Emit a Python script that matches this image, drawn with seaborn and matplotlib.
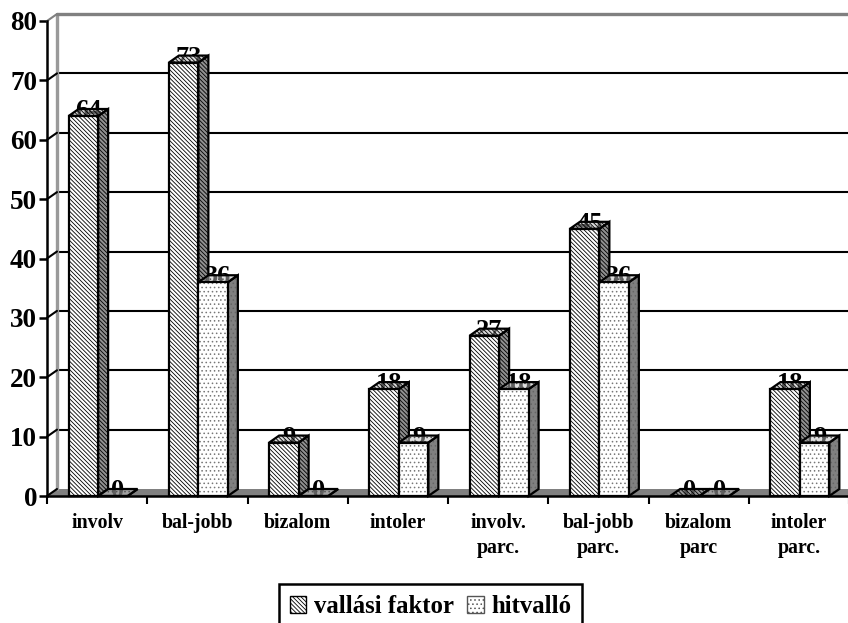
import matplotlib
matplotlib.use("Agg")
import matplotlib.pyplot as plt
from matplotlib.colors import to_rgba
from matplotlib.patches import Patch, Polygon, Rectangle
import seaborn as sns
import pandas as pd

categories = ["involv", "bal-jobb", "bizalom", "intoler", "involv.\nparc.", "bal-jobb\nparc.", "bizalom\nparc", "intoler\nparc."]
vallasi = [64, 73, 9, 18, 27, 45, 0, 18]
hitvallo = [0, 36, 0, 9, 18, 36, 0, 9]
series_names = ["vallási faktor", "hitvalló"]
y_ticks = [0, 10, 20, 30, 40, 50, 60, 70, 80]

sns.set_theme(style="white")
plt.rcParams["font.family"] = ["Liberation Serif", "DejaVu Serif"]
plt.rcParams["font.weight"] = "bold"
plt.rcParams["hatch.linewidth"] = 0.6

W, H = 848, 623
fig = plt.figure(figsize=(W / 100, H / 100), dpi=100)
ax = fig.add_axes([47 / W, (H - 496) / H, 802 / W, 475 / H])

df = pd.DataFrame({
	"kategoria": categories * 2,
	"ertek": vallasi + hitvallo,
	"sorozat": [series_names[0]] * 8 + [series_names[1]] * 8,
})
sns.barplot(data=df, x="kategoria", y="ertek", hue="sorozat", order=categories, hue_order=series_names,
	palette=["white", "white"], width=0.588, gap=0, edgecolor="black", linewidth=0, saturation=1,
	legend=False, ax=ax)

ax.set_xlim(-0.5, 7.5)
ax.set_ylim(0, 80)

# 3D eltolas adategysegben (10 px jobbra, 7 px fel)
dx = 10 / (802 / 8)
dy = 7 / (475 / 80)
x0, x1 = -0.5, 7.5
shift = 1 / (802 / 8)

# padlo, hatso fal, racsvonalak
ax.add_patch(Polygon([(x0, 0), (x0 + dx, dy), (x1, dy), (x1, 0)], facecolor="#808080", edgecolor="none", zorder=0.5))
for v in y_ticks[1:-1]:
	ax.plot([x0 + dx, x1], [v + dy, v + dy], color="black", lw=1.5, zorder=1, clip_on=False)
ax.plot([x0 + dx, x0 + dx], [dy, 80 + dy], color="#9a9a9a", lw=2.4, zorder=1, clip_on=False)
ax.plot([x0 + dx, x1], [80 + dy, 80 + dy], color="#808080", lw=2.4, zorder=1, clip_on=False)
for v in y_ticks:
	ax.plot([x0, x0 + dx], [v, v + dy], color="#808080" if v == 80 else "black", lw=1.5, zorder=1.2, clip_on=False)

hatches = ["\\" * 8, "...."]
front_hatch_colors = ["black", "#777777"]
top_colors = ["#b0b0b0", "#c0c0c0"]
top_hatch_colors = ["black", "#555555"]
side_colors = ["#909090", "#808080"]
side_hatch_colors = ["black", "#666666"]


def face(points, fc, hatch, hcolor, z):
	# kitoltes es vonalkazas kulon, a korvonal mindig fekete
	ax.add_patch(Polygon(points, facecolor=fc, edgecolor=hcolor, lw=0, hatch=hatch, zorder=z, clip_on=False))
	ax.add_patch(Polygon(points, fill=False, edgecolor="black", lw=1.6, zorder=z + 0.01, clip_on=False))


bars = []
for s, cont in enumerate(ax.containers):
	for i, b in enumerate(cont):
		bars.append((i, s, b))
bars.sort(key=lambda t: (t[0], t[1]))

z = 3
for i, s, b in bars:
	b.set_x(b.get_x() + shift)
	xl, w, h = b.get_x(), b.get_width(), b.get_height()
	xr = xl + w
	ax.text(xl + w / 2 + dx / 2, h - 0.2, str(int(h)), ha="center", va="baseline", fontsize=19,
		fontweight="bold", color="black", zorder=z, clip_on=False)
	face([(xr, 0), (xr + dx, dy), (xr + dx, h + dy), (xr, h)], side_colors[s], hatches[s], side_hatch_colors[s], z + 0.1)
	face([(xl, h), (xl + dx, h + dy), (xr + dx, h + dy), (xr, h)], to_rgba(top_colors[s], 0.5), hatches[s],
		top_hatch_colors[s], z + 0.2)
	b.set_hatch(hatches[s])
	b.set_edgecolor(front_hatch_colors[s])
	b.set_zorder(z + 0.3)
	ax.add_patch(Rectangle((xl, 0), w, h, fill=False, edgecolor="black", lw=1.6, zorder=z + 0.4, clip_on=False))
	z += 1

for side in ["top", "right"]:
	ax.spines[side].set_visible(False)
for side in ["left", "bottom"]:
	ax.spines[side].set_linewidth(1.8)
	ax.spines[side].set_color("black")
	ax.spines[side].set_zorder(50)

ax.set_xlabel("")
ax.set_ylabel("")
ax.set_yticks(y_ticks)
ax.set_yticklabels(y_ticks, fontsize=19.5, fontweight="bold", color="black")
ax.tick_params(axis="y", left=True, length=5.5, width=1.8, color="black", pad=1.6)
ax.set_xticks(range(8))
ax.set_xticklabels(categories, fontsize=14.3, fontweight="bold", color="black", linespacing=1.3)
ax.set_xticks([x0 + i for i in range(9)], minor=True)
ax.tick_params(axis="x", which="major", bottom=False, pad=6.5)
ax.tick_params(axis="x", which="minor", bottom=True, length=6, width=1.5, color="black")

handles = [Patch(facecolor="white", edgecolor="black", hatch=hatches[0], lw=1),
	Patch(facecolor="white", edgecolor="#555555", hatch=hatches[1], lw=1)]
leg = fig.legend(handles, series_names, ncol=2, loc="lower left", bbox_to_anchor=(279 / W, -6 / H),
	bbox_transform=fig.transFigure, frameon=True, fancybox=False, edgecolor="black", framealpha=1,
	prop={"weight": "bold", "size": 17.8}, handlelength=0.66, handleheight=0.7, handletextpad=0.3,
	columnspacing=0.55, borderaxespad=0, borderpad=0.45)
leg.get_frame().set_linewidth(1.8)
for t in leg.get_texts():
	t.set_color("black")

fig.savefig("out.png", dpi=100, facecolor="white")
